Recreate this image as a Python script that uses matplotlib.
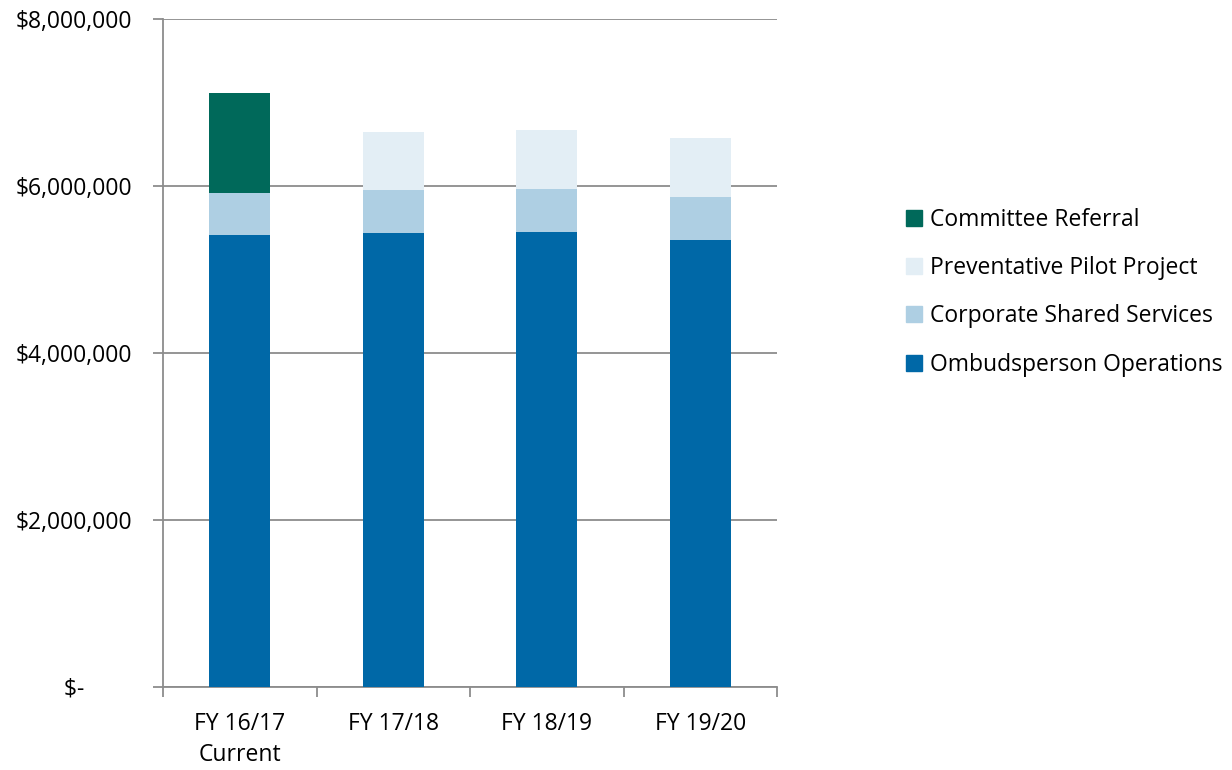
import matplotlib.pyplot as plt
import numpy as np
from matplotlib.patches import Patch
from matplotlib.ticker import FuncFormatter

# Données (dollars)
categories = ["FY 16/17\nCurrent", "FY 17/18", "FY 18/19", "FY 19/20"]
ombudsperson = [5413000, 5433000, 5445000, 5353000]
corporate = [503000, 519000, 523000, 519000]
preventative = [0, 695000, 699000, 699000]
committee = [1198000, 0, 0, 0]

series = [
    ("Ombudsperson Operations", ombudsperson, "#0068a7"),
    ("Corporate Shared Services", corporate, "#aecfe3"),
    ("Preventative Pilot Project", preventative, "#e3eef5"),
    ("Committee Referral", committee, "#00695a"),
]

plt.rcParams['font.family'] = ['Open Sans', 'DejaVu Sans']

fig = plt.figure(figsize=(12.32, 7.7), dpi=100)
ax = fig.add_axes([0.1323, 0.1078, 0.4984, 0.8675])

x = np.arange(len(categories))
bottom = np.zeros(len(categories))
for name, vals, col in series:
    vals = np.array(vals, dtype=float)
    ax.bar(x, vals, 0.4, bottom=bottom, color=col, zorder=3)
    bottom += vals

ax.set_xlim(-0.5, 3.5)
ax.set_ylim(0, 8000000)
ax.set_yticks([0, 2000000, 4000000, 6000000, 8000000])

def fmt(v, pos):
    if v == 0:
        return "$-        "
    return "${:,.0f}".format(v)
ax.yaxis.set_major_formatter(FuncFormatter(fmt))
ax.grid(axis='y', color='#8c8c8c', linewidth=1.3, zorder=0)

# Graduations entre les catégories
ax.set_xticks(x)
ax.set_xticklabels(categories, fontsize=16.5, linespacing=1.4)
ax.set_xticks(np.arange(-0.5, 4, 1), minor=True)
ax.tick_params(axis='x', which='major', length=0, pad=18)
ax.tick_params(axis='x', which='minor', length=7, color='#8c8c8c', width=1.3)
ax.tick_params(axis='y', length=7, color='#8c8c8c', width=1.3, labelsize=16.5, pad=15)

for s in ['top', 'right']:
    ax.spines[s].set_visible(False)
for s in ['left', 'bottom']:
    ax.spines[s].set_color('#8c8c8c')
    ax.spines[s].set_linewidth(1.3)

handles = [Patch(color=col, label=name) for name, vals, col in reversed(series)]
fig.legend(handles=handles, loc='upper left', bbox_to_anchor=(0.728, 0.742),
           frameon=False, fontsize=16.5, handlelength=0.7, handleheight=0.7,
           handletextpad=0.35, labelspacing=1.06, borderaxespad=0)

plt.savefig("out.png", dpi=100)
